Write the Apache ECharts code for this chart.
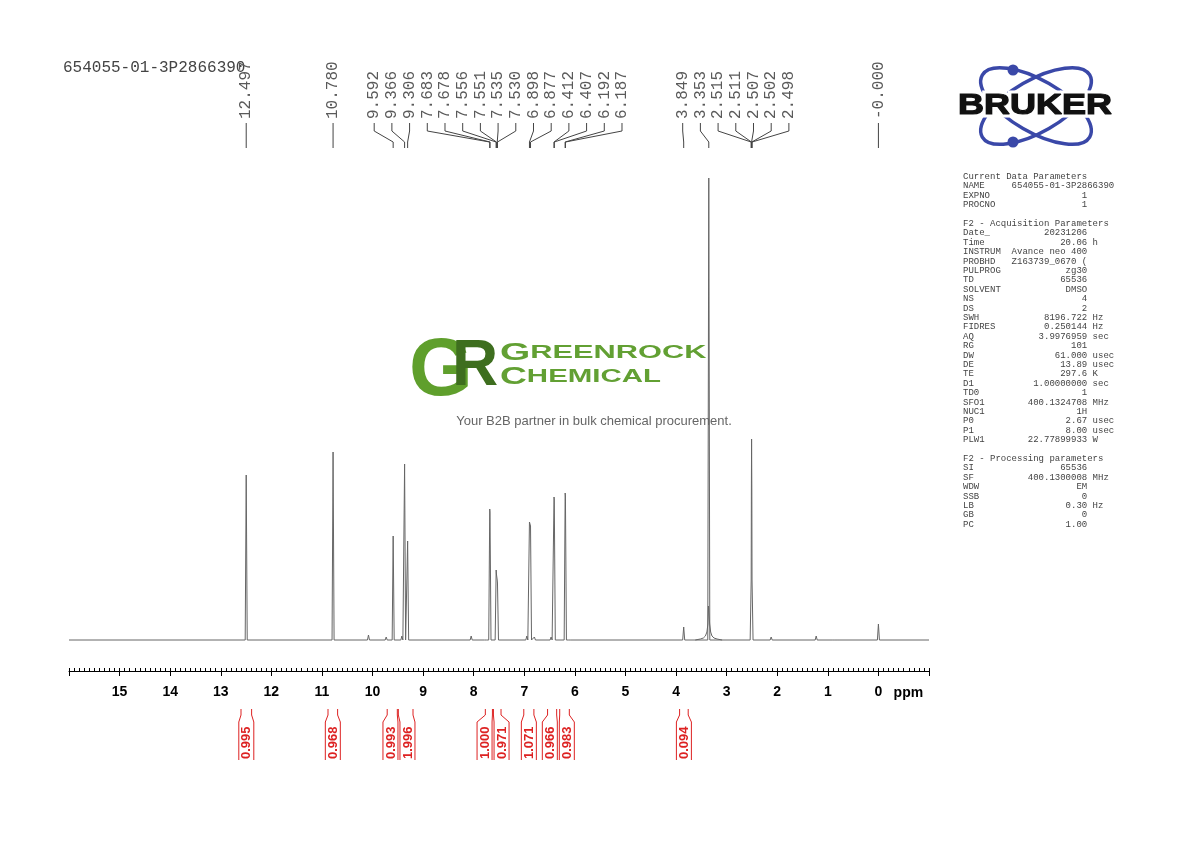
<!DOCTYPE html>
<html>
<head>
<meta charset="utf-8">
<script src="https://cdn.jsdelivr.net/npm/echarts@6.0.0/dist/echarts.min.js"></script>
<style>
  html, body { margin: 0; padding: 0; background: #fff; }
  #chart { width: 1190px; height: 842px; }
</style>
</head>
<body>
<div id="chart"></div>
<script>
const sampleName = '654055-01-3P2866390';

// labelled lines: shift (ppm) and height (same units as the water line = 462)
const peakShifts  = [12.497, 10.780, 9.592, 9.366, 9.306, 7.683, 7.678, 7.556, 7.551, 7.535, 7.530,
                     6.898, 6.877, 6.412, 6.407, 6.192, 6.187, 3.849, 3.353, 2.515, 2.511, 2.507, 2.502, 2.498, 0.000];
const peakLabels  = ['12.497', '10.780', '9.592', '9.366', '9.306', '7.683', '7.678', '7.556', '7.551', '7.535', '7.530',
                     '6.898', '6.877', '6.412', '6.407', '6.192', '6.187', '3.849', '3.353', '2.515', '2.511', '2.507', '2.502', '2.498', '-0.000'];
const peakHeights = [165, 188, 104, 176, 99, 131, 128, 70, 66, 60, 57,
                     118, 114, 143, 140, 147, 144, 13, 462, 60, 150, 201, 150, 60, 16];

// small unlabelled lines on the baseline
const minorShifts  = [10.08, 9.73, 9.42, 8.05, 7.77, 6.95, 6.80, 6.47, 6.10, 2.12, 1.23, 0.88, 0.78];
const minorHeights = [5, 3, 4, 4, 2, 4, 3, 3, 2, 3, 4, 2, 2];

// broad foot of the water line
const waterFoot = [[3.62, 0], [3.52, 1], [3.46, 2], [3.42, 4], [3.39, 8], [3.37, 16], [3.36, 34],
                   [3.346, 34], [3.336, 16], [3.316, 8], [3.29, 4], [3.25, 2], [3.19, 1], [3.09, 0]];

// integrals
const integralFrom   = [12.60, 10.88, 9.71, 9.49, 7.77, 7.61, 7.01, 6.54, 6.30, 3.93];
const integralTo     = [12.39, 10.69, 9.51, 9.20, 7.63, 7.46, 6.81, 6.36, 6.11, 3.76];
const integralValues = ['0.995', '0.968', '0.993', '1.996', '1.000', '0.971', '1.071', '0.966', '0.983', '0.094'];

// axis
const PPM_MIN = -1, PPM_MAX = 16;
const tickValues = [15, 14, 13, 12, 11, 10, 9, 8, 7, 6, 5, 4, 3, 2, 1, 0];

// parameter block
const currentParams = [['NAME', '654055-01-3P2866390', ''], ['EXPNO', '1', ''], ['PROCNO', '1', '']];
const acqParams = [['Date_', '20231206', ''], ['Time', '20.06', 'h'], ['INSTRUM', 'Avance neo 400', ''],
  ['PROBHD', 'Z163739_0670 (', ''], ['PULPROG', 'zg30', ''], ['TD', '65536', ''], ['SOLVENT', 'DMSO', ''],
  ['NS', '4', ''], ['DS', '2', ''], ['SWH', '8196.722', 'Hz'], ['FIDRES', '0.250144', 'Hz'],
  ['AQ', '3.9976959', 'sec'], ['RG', '101', ''], ['DW', '61.000', 'usec'], ['DE', '13.89', 'usec'],
  ['TE', '297.6', 'K'], ['D1', '1.00000000', 'sec'], ['TD0', '1', ''], ['SFO1', '400.1324708', 'MHz'],
  ['NUC1', '1H', ''], ['P0', '2.67', 'usec'], ['P1', '8.00', 'usec'], ['PLW1', '22.77899933', 'W']];
const procParams = [['SI', '65536', ''], ['SF', '400.1300008', 'MHz'], ['WDW', 'EM', ''], ['SSB', '0', ''],
  ['LB', '0.30', 'Hz'], ['GB', '0', ''], ['PC', '1.00', '']];

const GRID_LEFT = 69, GRID_RIGHT = 261;
const pxPerPpm = (1190 - GRID_LEFT - GRID_RIGHT) / (PPM_MAX - PPM_MIN);
const STICK_HALF = 0.02;
const MONO = '"Liberation Mono", monospace';
const SANS = '"Liberation Sans", Arial, sans-serif';
const RED = '#dd2222';
const BLUE = '#3a48a8';

// turn the line list into a stick trace on a flat baseline
function stickTrace(shifts, heights) {
    const lines = shifts.map((s, i) => [s, heights[i]]).sort((a, b) => b[0] - a[0]);
    const pts = [[PPM_MAX, 0]];
    lines.forEach(([s, h], i) => {
        const prev = i > 0 ? lines[i - 1][0] : null;
        if (prev === null || prev - s > 2 * STICK_HALF) {
            if (prev !== null) pts.push([prev - STICK_HALF, 0]);
            pts.push([s + STICK_HALF, 0]);
        }
        pts.push([s, h]);
    });
    pts.push([lines[lines.length - 1][0] - STICK_HALF, 0], [PPM_MIN, 0]);
    return pts;
}

// spread labels so they don't overlap (clusters centred on their lines)
function spreadLabels(centers, gap) {
    const groups = centers.map(c => ({ n: 1, sum: -c }));
    let again = true;
    while (again) {
        again = false;
        for (let i = 0; i < groups.length - 1; i++) {
            const a = groups[i], b = groups[i + 1];
            const aEnd = a.sum / a.n + (a.n - 1) / 2 * gap;
            const bStart = b.sum / b.n - (b.n - 1) / 2 * gap;
            if (bStart - aEnd < gap) {
                a.n += b.n; a.sum += b.sum;
                groups.splice(i + 1, 1);
                again = true;
                break;
            }
        }
    }
    const out = [];
    groups.forEach(g => {
        const mid = g.sum / g.n;
        for (let k = 0; k < g.n; k++) out.push(-(mid + (k - (g.n - 1) / 2) * gap));
    });
    return out;
}

function paramLines() {
    const fmt = ([n, v, u]) => n.padEnd(9) + v.padStart(14) + (u ? ' ' + u : '');
    return ['Current Data Parameters', ...currentParams.map(fmt), '',
            'F2 - Acquisition Parameters', ...acqParams.map(fmt), '',
            'F2 - Processing parameters', ...procParams.map(fmt)].join('\n');
}

const peakLabelPos = spreadLabels(peakShifts, 17.7 / pxPerPpm);
const peakLabelData = peakShifts.map((s, i) => [s, 0, peakLabelPos[i]]);

const integralMid = integralFrom.map((f, i) => (f + integralTo[i]) / 2);
const integralPos = spreadLabels(integralMid, 17 / pxPerPpm);
const integralData = integralMid.map((m, i) => [m, 0, integralPos[i], integralFrom[i], integralTo[i]]);

const myChart = echarts.init(document.getElementById('chart'));

const option = {
    animation: false,
    backgroundColor: '#fff',
    grid: { left: GRID_LEFT, right: GRID_RIGHT, top: 178, bottom: 171 },
    xAxis: [
        {
            type: 'value', min: PPM_MIN, max: PPM_MAX, interval: 1, inverse: true,
            axisLine: { onZero: false, lineStyle: { color: '#000', width: 1 } },
            axisTick: { inside: false, length: 5, lineStyle: { color: '#000' } },
            axisLabel: {
                margin: 14, color: '#000', fontSize: 14, fontWeight: 'bold', fontFamily: SANS,
                formatter: v => tickValues.includes(v) ? String(v) : ''
            },
            splitLine: { show: false }
        },
        {
            type: 'value', min: PPM_MIN, max: PPM_MAX, interval: 0.1, inverse: true, position: 'bottom',
            axisLine: { show: false, onZero: false },
            axisTick: { inside: true, length: 3, lineStyle: { color: '#000' } },
            axisLabel: { show: false },
            splitLine: { show: false }
        }
    ],
    yAxis: { type: 'value', min: -31, max: 462, show: false },
    series: [
        {
            type: 'line', xAxisIndex: 0, data: stickTrace(peakShifts.concat(minorShifts), peakHeights.concat(minorHeights)),
            showSymbol: false, lineStyle: { color: '#666', width: 1 }, silent: true
        },
        {
            type: 'line', xAxisIndex: 0, data: waterFoot,
            showSymbol: false, lineStyle: { color: '#666', width: 1 }, silent: true
        },
        {
            // peak labels above the spectrum
            type: 'custom', xAxisIndex: 0, clip: false, silent: true, data: peakLabelData,
            renderItem: (params, api) => {
                const i = params.dataIndex;
                const p = api.coord([api.value(0), 0])[0];
                const l = api.coord([api.value(2), 0])[0];
                return {
                    type: 'group',
                    children: [
                        {
                            type: 'text', x: l, y: 119, rotation: Math.PI / 2,
                            style: { text: peakLabels[i], font: '16px ' + MONO, fill: '#5a5a5a', align: 'left', verticalAlign: 'middle' }
                        },
                        {
                            type: 'polyline', shape: { points: [[l, 123], [l, 131], [p, 142], [p, 148]] },
                            style: { stroke: '#444', lineWidth: 1, fill: null }
                        }
                    ]
                };
            }
        },
        {
            // integrals under the axis
            type: 'custom', xAxisIndex: 0, clip: false, silent: true, data: integralData,
            renderItem: (params, api) => {
                const i = params.dataIndex;
                const c = api.coord([api.value(2), 0])[0];
                const s = api.coord([api.value(3), 0])[0];
                const e = api.coord([api.value(4), 0])[0];
                const hw = Math.max(7.5, (e - s) / 2);
                const ls = { stroke: RED, lineWidth: 1, fill: null };
                return {
                    type: 'group',
                    children: [
                        { type: 'polyline', shape: { points: [[s, 709], [s, 715], [c - hw, 722], [c - hw, 760]] }, style: ls },
                        { type: 'polyline', shape: { points: [[e, 709], [e, 715], [c + hw, 722], [c + hw, 760]] }, style: ls },
                        {
                            type: 'text', x: c + 0.5, y: 759, rotation: Math.PI / 2,
                            style: { text: integralValues[i], font: 'bold 13px ' + SANS, fill: RED, align: 'left', verticalAlign: 'middle' }
                        }
                    ]
                };
            }
        },
        {
            // unit after the 0 tick
            type: 'custom', xAxisIndex: 0, clip: false, silent: true, data: [[-0.3, 0]],
            renderItem: (params, api) => ({
                type: 'text', x: api.coord([api.value(0), 0])[0], y: 693,
                style: { text: 'ppm', font: 'bold 14px ' + SANS, fill: '#000', align: 'left', verticalAlign: 'middle' }
            })
        }
    ],
    graphic: [
        { type: 'text', left: 63, top: 60, style: { text: sampleName, font: '16px ' + MONO, fill: '#444' } },
        // parameter block
        { type: 'text', x: 963, y: 172, style: { text: paramLines(), font: '9px ' + MONO, fill: '#444', lineHeight: 9.4, verticalAlign: 'top' } },
        // Bruker logo
        { type: 'ellipse', x: 1036, y: 106, rotation: 30 * Math.PI / 180, shape: { cx: 0, cy: 0, rx: 62, ry: 26 }, style: { fill: 'none', stroke: BLUE, lineWidth: 3.5 } },
        { type: 'ellipse', x: 1036, y: 106, rotation: -30 * Math.PI / 180, shape: { cx: 0, cy: 0, rx: 62, ry: 26 }, style: { fill: 'none', stroke: BLUE, lineWidth: 3.5 } },
        { type: 'circle', shape: { cx: 1013, cy: 70, r: 5.5 }, style: { fill: BLUE } },
        { type: 'circle', shape: { cx: 1013, cy: 142, r: 5.5 }, style: { fill: BLUE } },
        { type: 'text', x: 958, y: 106, scaleX: 1.2, style: { text: 'BRUKER', font: 'bold 30px ' + SANS, fill: '#fff', stroke: '#fff', lineWidth: 7, align: 'left', verticalAlign: 'middle' } },
        { type: 'text', x: 958, y: 106, scaleX: 1.2, style: { text: 'BRUKER', font: 'bold 30px ' + SANS, fill: '#111', stroke: '#111', lineWidth: 1.2, align: 'left', verticalAlign: 'middle' } },
        // watermark
        { type: 'text', x: 409, y: 372, style: { text: 'G', font: 'bold 82px ' + SANS, fill: '#5f9f2c', align: 'left', verticalAlign: 'middle' } },
        { type: 'text', x: 452, y: 367, style: { text: 'R', font: 'bold 64px ' + SANS, fill: '#3e6e1f', align: 'left', verticalAlign: 'middle' } },
        {
            type: 'text', x: 500, y: 353, scaleX: 1.62,
            style: {
                text: '{a|G}{b|REENROCK}', fill: '#62a033', align: 'left', verticalAlign: 'middle',
                rich: { a: { font: 'bold 24px ' + SANS, fill: '#62a033' }, b: { font: 'bold 19px ' + SANS, fill: '#62a033' } }
            }
        },
        {
            type: 'text', x: 500, y: 377, scaleX: 1.55,
            style: {
                text: '{a|C}{b|HEMICAL}', fill: '#62a033', align: 'left', verticalAlign: 'middle',
                rich: { a: { font: 'bold 24px ' + SANS, fill: '#62a033' }, b: { font: 'bold 19px ' + SANS, fill: '#62a033' } }
            }
        },
        { type: 'text', x: 594, y: 421, style: { text: 'Your B2B partner in bulk chemical procurement.', font: '13px ' + SANS, fill: '#666', align: 'center', verticalAlign: 'middle' } }
    ]
};

myChart.setOption(option);
</script>
</body>
</html>
